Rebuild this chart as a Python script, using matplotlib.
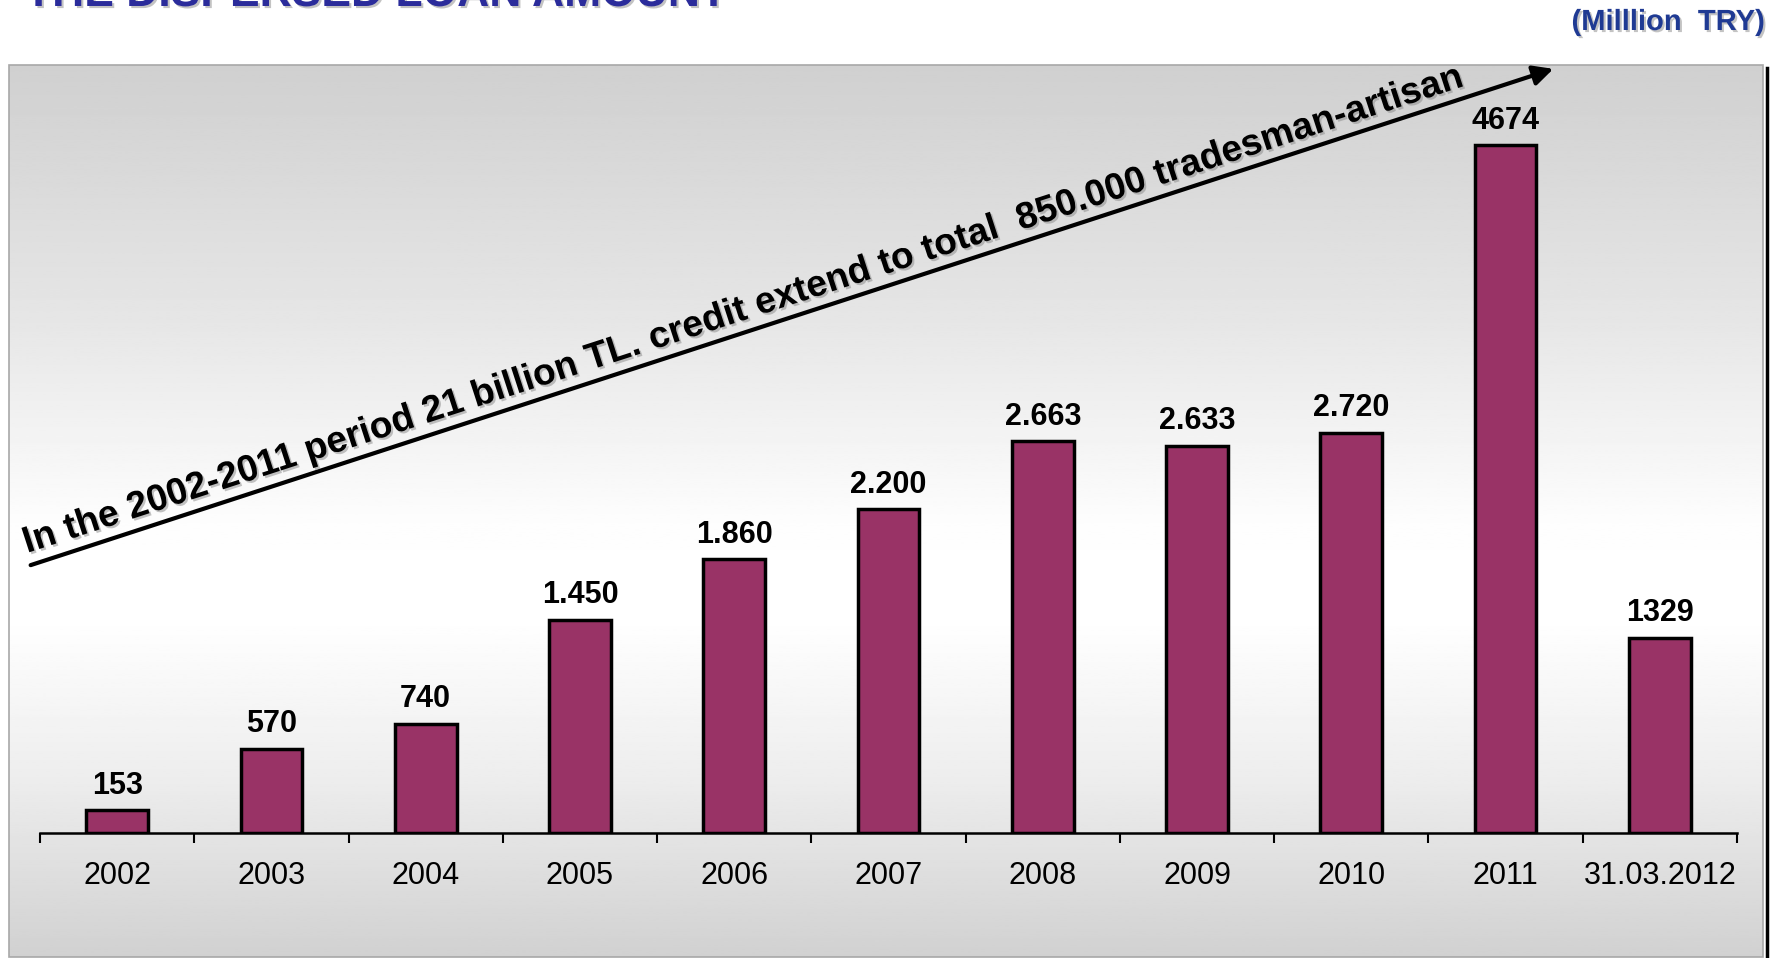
import numpy as np
import matplotlib as mpl
mpl.use('Agg')
import matplotlib.pyplot as plt
import matplotlib.patheffects as pe
from matplotlib.patches import Rectangle, FancyArrowPatch
from matplotlib.lines import Line2D

plt.rcParams['font.family'] = ['Liberation Sans', 'DejaVu Sans']

years = ['2002', '2003', '2004', '2005', '2006', '2007', '2008', '2009', '2010', '2011', '31.03.2012']
loans = [153, 570, 740, 1450, 1860, 2200, 2663, 2633, 2720, 4674, 1329]
loan_labels = ['153', '570', '740', '1.450', '1.860', '2.200', '2.663', '2.633', '2.720', '4674', '1329']

W, H = 1782, 958
fig = plt.figure(figsize=(W / 100, H / 100), dpi=100)
fig.patch.set_facecolor('white')

def fx(px):
    return px / W

def fy(py):
    return 1 - py / H

# gradient panel behind the chart
px0, px1, py0, py1 = 9, 1763, 65, 957
ax_bg = fig.add_axes([fx(px0), fy(py1), fx(px1 - px0), (py1 - py0) / H])
stops_pos = [0.0, 0.28, 0.52, 0.62, 0.80, 1.0]
stops_val = [0.815, 0.90, 0.995, 1.0, 0.93, 0.82]
t = np.linspace(0, 1, 400)
grad = np.interp(t, stops_pos, stops_val)
img = np.repeat(grad[:, None], 2, axis=1)
ax_bg.imshow(img, cmap='gray', vmin=0, vmax=1, aspect='auto', extent=[0, 1, 1, 0])
ax_bg.set_axis_off()
fig.patches.append(Rectangle((fx(px0), fy(py1)), fx(px1 - px0), (py1 - py0) / H,
                             transform=fig.transFigure, fill=False, edgecolor='#a8a8a8', lw=1.2))
fig.lines.append(Line2D([fx(1767), fx(1767)], [fy(68), fy(958)], transform=fig.transFigure,
                        color='black', lw=2.5))

# bar chart
ax = fig.add_axes([fx(40), fy(833), fx(1737 - 40), (833 - 65) / H])
ax.set_facecolor('none')
x = np.arange(len(years))
ax.bar(x, loans, width=0.4, color='#993366', edgecolor='black', linewidth=2.5, zorder=3)
for xi, v, lab in zip(x, loans, loan_labels):
    ax.annotate(lab, (xi, v), xytext=(0, 7), textcoords='offset points',
                ha='center', va='bottom', fontsize=22, fontweight='bold', color='black')

ax.set_xlim(-0.5, len(years) - 0.5)
ax.set_ylim(0, 5221)
ax.set_xticks(np.arange(-0.5, len(years), 1.0))
ax.set_xticklabels([])
ax.set_xticks(x, minor=True)
ax.set_xticklabels(years, minor=True, fontsize=22)
ax.tick_params(axis='x', which='major', direction='out', length=7, width=1.5, color='black')
ax.tick_params(axis='x', which='minor', length=0, pad=20)
ax.set_yticks([])
for s in ['top', 'right', 'left']:
    ax.spines[s].set_visible(False)
ax.spines['bottom'].set_linewidth(1.8)

shadow = [pe.withSimplePatchShadow(offset=(1.5, -1.5), shadow_rgbFace='#888888', alpha=0.5)]

# arrow with slanted note
fig.patches.append(FancyArrowPatch((fx(28), fy(566)), (fx(1556), fy(68)), transform=fig.transFigure,
                                   arrowstyle='-|>', mutation_scale=30, lw=3, color='black'))
fig.text(fx(27), fy(553), 'In the 2002-2011 period 21 billion TL. credit extend to total  850.000 tradesman-artisan',
         rotation=18.0, rotation_mode='anchor', ha='left', va='baseline',
         fontsize=26.8, fontweight='bold', color='black', path_effects=shadow)

# titles (main title is cropped at the top edge, as in the source slide)
fig.text(fx(25), fy(6), 'THE DISPERSED LOAN AMOUNT', ha='left', va='baseline',
         fontsize=32, fontweight='bold', color='#2b2c9b', path_effects=shadow)
fig.text(fx(1765), fy(22), '(Milllion  TRY)', ha='right', va='center',
         fontsize=21, fontweight='bold', color='#1f3a93', path_effects=shadow)

fig.savefig('out.png', dpi=100)
